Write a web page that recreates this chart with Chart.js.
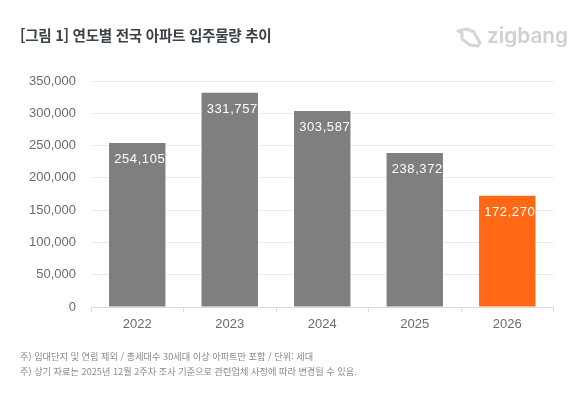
<!DOCTYPE html>
<html lang="ko"><head><meta charset="utf-8">
<style>
html,body{margin:0;padding:0;background:#fff;width:580px;height:393px;overflow:hidden}
#wrap{position:relative;width:580px;height:393px}
canvas{position:absolute;left:0;top:0}
.t{position:absolute;white-space:nowrap;font-family:"Noto Sans CJK KR","Noto Sans",sans-serif}
#title{left:20px;top:25px;font-size:14.6px;font-weight:700;color:#3b4148;line-height:20px;letter-spacing:-.3px}
.note{left:20px;font-size:9.2px;color:#8a8a8a;line-height:12px}
#logo{position:absolute;left:455px;top:25px;width:27px;height:24px}
#brand{left:487px;top:20px;font-family:"Inter","Noto Sans",sans-serif;font-size:20.8px;font-weight:600;color:#cdd1d1;line-height:32px}
</style>
</head><body>
<div id="wrap">
<canvas id="c" width="580" height="393"></canvas>
<div class="t" id="title">[그림 1] 연도별 전국 아파트 입주물량 추이</div>
<svg id="logo" viewBox="0 0 27 24"><path d="M7 8 L3 6 L12 4 L19 7 L25 18 L23 21 L15 20 L7 14 Z" fill="none" stroke="#d2d6d6" stroke-width="3" stroke-linejoin="round"/></svg>
<div class="t" id="brand">zigbang</div>
<div class="t note" style="top:350px">주) 임대단지 및 연립 제외 / 총세대수 30세대 이상 아파트만 포함 / 단위: 세대</div>
<div class="t note" style="top:365px">주) 상기 자료는 2025년 12월 2주차 조사 기준으로 관련업체 사정에 따라 변경될 수 있음.</div>
</div>
<script src="https://cdn.jsdelivr.net/npm/chart.js@4"></script>
<script>
const years=["2022","2023","2024","2025","2026"];
const units=[254105,331757,303587,238372,172270];
const barColors=["#7f7f7f","#7f7f7f","#7f7f7f","#7f7f7f","#ff6815"];
const yMax=350000, yStep=50000;

const valueLabels={id:"valueLabels",afterDatasetsDraw(chart){
  const {ctx}=chart,meta=chart.getDatasetMeta(0);
  ctx.save();ctx.fillStyle="#fff";ctx.font="13px 'Liberation Sans',Arial,sans-serif";
  ctx.letterSpacing="0.6px";
  ctx.textAlign="center";ctx.textBaseline="middle";
  meta.data.forEach((b,i)=>ctx.fillText(units[i].toLocaleString("en-US"),b.x+2.5,b.y+16.5));
  ctx.restore();
}};
new Chart(document.getElementById("c"),{
  type:"bar",
  data:{labels:years,datasets:[{data:units,backgroundColor:barColors,barPercentage:.61,categoryPercentage:1}]},
  plugins:[valueLabels],
  options:{
    responsive:false,animation:false,
    layout:{padding:{left:0,right:26.5,top:81,bottom:0}},
    plugins:{legend:{display:false},tooltip:{enabled:false}},
    scales:{
      x:{
        afterFit(s){s.height=86},
        grid:{drawOnChartArea:false,drawTicks:true,tickLength:5,color:"#dcdcdc",offset:true},
        border:{color:"#dcdcdc"},
        ticks:{color:"#6b6b6b",font:{size:13,family:"'Liberation Sans',Arial,sans-serif"},padding:5,maxRotation:0}
      },
      y:{
        min:0,max:yMax,
        afterFit(s){s.width=91},
        grid:{color:"#e9e9e9",drawTicks:false},
        border:{display:false},
        ticks:{stepSize:yStep,color:"#6b6b6b",padding:15,font:{size:13,family:"'Liberation Sans',Arial,sans-serif"},callback:v=>v.toLocaleString("en-US")}
      }
    }
  }
});
</script>
</body></html>
